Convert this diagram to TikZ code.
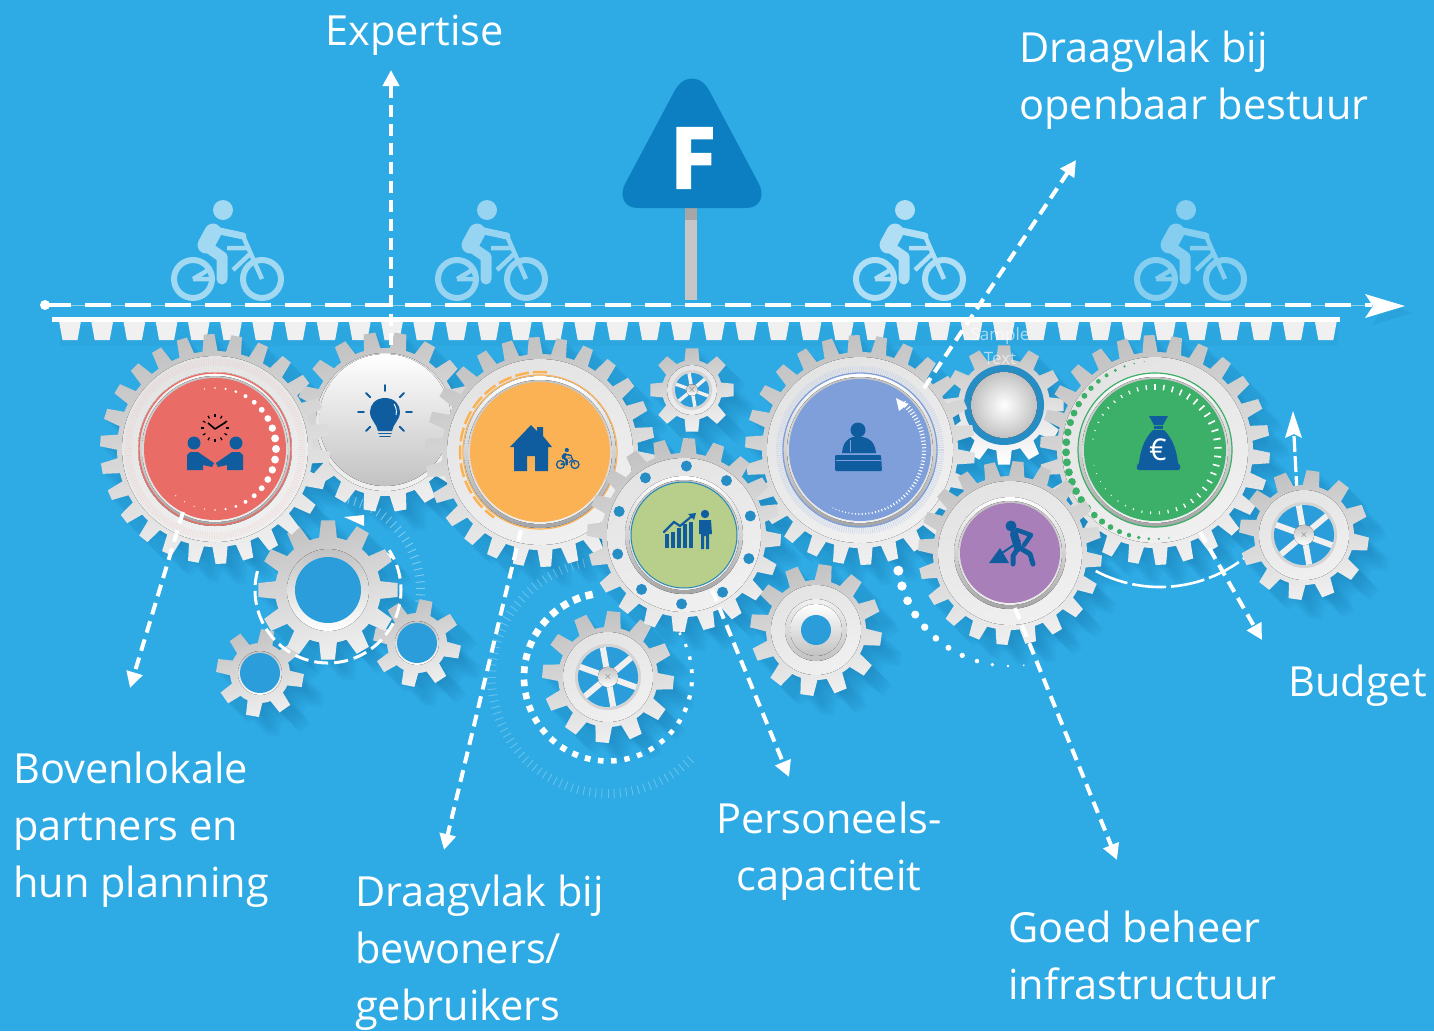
\documentclass[tikz,border=0pt]{standalone}
\usepackage{fontspec}
\setmainfont{Open Sans}
\newfontfamily\signfont[FakeBold=2.5]{Open Sans}
\usetikzlibrary{arrows.meta,calc}
\definecolor{bgblue}{HTML}{2EAAE4}
\definecolor{holeblue}{HTML}{2B9DDB}
\definecolor{shadowblue}{HTML}{14699F}
\definecolor{iconblue}{HTML}{0F5C9F}
\definecolor{signblue}{HTML}{0B7FC1}
\definecolor{redface}{HTML}{E96D66}
\definecolor{orangeface}{HTML}{FBB254}
\definecolor{periface}{HTML}{7F9FDA}
\definecolor{limeface}{HTML}{B7CF8B}
\definecolor{purpleface}{HTML}{A97FB9}
\definecolor{greenface}{HTML}{3CAF68}
\definecolor{geardark}{HTML}{C2C2C2}
\definecolor{gearlight}{HTML}{F0F0F0}
\tikzset{
  gearfill/.style={shading=axis,top color=geardark,bottom color=gearlight,shading angle=15},
  platefill/.style={shading=axis,top color=geardark!45!white,bottom color=gearlight,shading angle=25},
  conn/.style={draw=white,line width=4pt,dash pattern=on 12pt off 7pt,-{Triangle[length=16pt,width=16pt,fill=white]}},
  label/.style={text=white,font=\fontsize{41.5}{57}\selectfont,inner sep=0pt,align=left,anchor=north west},
  iconfill/.style={fill=iconblue,draw=none},
  iconline/.style={draw=iconblue,line cap=round},
}
\newcommand{\gearshape}[7]{%
  \pgfmathsetmacro{\gearstep}{360/#6}%
  \begin{scope}[shift={(#2,#3)}]
    \path[#1] ({#7+.5*\gearstep}:#5)
      \foreach \k in {1,...,#6} {
        -- ({#7+\k*\gearstep-.32*\gearstep}:#5)
        -- ({#7+\k*\gearstep-.19*\gearstep}:#4)
        -- ({#7+\k*\gearstep+.19*\gearstep}:#4)
        -- ({#7+\k*\gearstep+.32*\gearstep}:#5)
        -- ({#7+\k*\gearstep+.5*\gearstep}:#5)
      } -- cycle;
  \end{scope}}
\newcommand{\gearshadow}[6]{%
  \foreach \q in {1,...,8} {%
    \pgfmathsetmacro{\qq}{2.5*\q}%
    \gearshape{fill=shadowblue,opacity=.05}{#1+\qq}{#2+\qq}{#3}{#4}{#5}{#6}%
  }}
\newcommand{\gearbody}[6]{%
  \gearshape{gearfill}{#1}{#2}{#3}{#4}{#5}{#6}%
  \pgfmathsetmacro{\pr}{#4-5}%
  \fill[platefill] (#1,#2) circle[radius=\pr];}
\newcommand{\gearface}[4]{%
  \pgfmathsetmacro{\ra}{#3+6}\pgfmathsetmacro{\rb}{#3+2}%
  \fill[shading=axis,top color=white,bottom color=geardark!85!black] (#1,#2) circle[radius=\ra];%
  \fill[shading=axis,top color=geardark,bottom color=gearlight] (#1,#2) circle[radius=\rb];%
  \fill[#4] (#1,#2) circle[radius=#3];}
\newcommand{\wheelhole}[3]{%
  \fill[geardark!70!white] (#1,#2) circle[radius=#3+3];
  \fill[holeblue] (#1,#2) circle[radius=#3];
  \foreach \w in {20,80,...,320} {\draw[gearlight,line width=#3*.2pt] (#1,#2) -- ++(\w:#3);}
  \fill[shading=axis,top color=geardark,bottom color=white] (#1,#2) circle[radius=#3*.34];
  \node[text=black!60,font=\fontsize{10}{10}\selectfont,inner sep=0pt] at (#1,#2) {$\times$};}
% cx cy hole-radius ring-width
\newcommand{\ringhole}[4]{%
  \fill[shading=axis,top color=geardark,bottom color=white] (#1,#2) circle[radius=#3+#4];
  \fill[holeblue] (#1,#2) circle[radius=#3];}
\newcommand{\hatcharc}[8]{%
  \begin{scope}[shift={(#1,#2)}]
  \foreach \h in {#4,#5,...,#6} {\draw[#8] (\h:#3) -- (\h:#3+#7);}
  \end{scope}}
\newcommand{\bike}[4]{%
  \begin{scope}[shift={(#1,#2)},scale=#3]
    \pgfmathsetmacro{\sc}{#3}%
    \fill[#4] (30,-69) circle[radius=10];
    \draw[#4,line width=\sc*6pt] (0,0) circle[radius=19] (69,0) circle[radius=19];
    \draw[#4,line width=\sc*17pt,line cap=round] (20,-47) -- (13,-34);
    \draw[#4,line width=\sc*7pt,line cap=round] (22,-49) -- (50,-43);
    \draw[#4,line width=\sc*11pt,line cap=round,line join=round] (13,-33) -- (29,-22) -- (29,0);
    \draw[#4,line width=\sc*4.5pt] (50,-43) -- (69,0) (34,-31) -- (56,-31) (58,-26) -- (40,-9) (0,0) -- (17,-10) (0,0) -- (18,0);
  \end{scope}}
\begin{document}
\begin{tikzpicture}[x=1pt,y=-1pt]
\useasboundingbox (0,0) rectangle (1434,1031);
\fill[bgblue] (0,0) rectangle (1434,1031);

% ---- sign ----
\fill[gray!45] (685,205) rectangle (697,300);
\fill[gray!70] (685,208) rectangle (697,220);
\fill[signblue] (638,208) .. controls (624,208) and (619,196) .. (625,184) -- (674,92) .. controls (683,74) and (701,74) .. (710,92) -- (759,184) .. controls (765,196) and (760,208) .. (746,208) -- cycle;
\node[name=signF,text=white,font=\fontsize{84}{84}\signfont\bfseries,inner sep=0pt] at (693,158) {F};

% ---- cyclists ----
\bike{193}{279}{1}{white!55!bgblue}
\bike{457}{279}{1}{white!50!bgblue}
\bike{875}{279}{1}{white!62!bgblue}
\bike{1156}{279}{1}{white!42!bgblue}

% ---- time line ----
\draw[white!45!bgblue,line width=1pt] (45,305) -- (1385,305);
\coordinate (lineStart) at (45,305);
\coordinate (lineEnd) at (1372,305);
\draw[white,line width=4pt,dash pattern=on 26pt off 14pt] (lineStart) -- (lineEnd);
\fill[white] (lineStart) circle[radius=5];
\fill[shadowblue,opacity=.12] (1372,298) -- (1412,313) -- (1372,325) -- (1380,313) -- cycle;
\fill[white] (1365,294) -- (1405,306) -- (1365,318) -- (1373,306) -- cycle;

% ---- shadows ----
\gearshadow{215}{449}{115}{98}{26}{4}
\gearshadow{385}{422}{90}{74}{18}{0}
\gearshadow{540}{452}{115}{98}{26}{4}
\gearshadow{692}{390}{42}{30}{8}{0}
\gearshadow{684}{535}{97}{82}{20}{3}
\gearshadow{860}{450}{115}{98}{26}{4}
\gearshadow{1004}{405}{60}{46}{12}{0}
\gearshadow{1010}{553}{92}{77}{20}{5}
\gearshadow{1155}{450}{115}{98}{26}{4}
\gearshadow{1304}{535}{65}{50}{12}{8}
\gearshadow{328}{590}{70}{53}{12}{0}
\gearshadow{260}{673}{44}{30}{8}{10}
\gearshadow{417}{643}{44}{30}{8}{12}
\gearshadow{608}{677}{66}{50}{12}{5}
\gearshadow{816}{630}{66}{50}{12}{8}

% ---- rack ----
\fill[shadowblue,opacity=.06] (60,326) rectangle (1338,346);
\foreach \t in {0,...,39} {
  \pgfmathsetmacro{\tx}{70+\t*32.2}
  \fill[gearlight] (\tx-11,321) -- (\tx+11,321) -- (\tx+7.5,340) -- (\tx-7.5,340) -- cycle;
}
\fill[white] (52,316.5) rectangle (1340,321.5);

% ---- decorations under the small gears ----
\hatcharc{608}{677}{112}{-315}{-312}{-100}{9}{draw=white,opacity=.28,line width=.9pt}
\begin{scope}[shift={(608,677)}]
\foreach \a in {-103,-112,...,-393} {
  \pgfmathsetmacro{\wd}{2+5.5*pow((\a+393)/290,.5)}
  \draw[white,line width=\wd pt] (\a:84-\wd/2) -- (\a:84+\wd/2);
}
\end{scope}
\gearbody{608}{677}{66}{50}{12}{5}
\wheelhole{608}{677}{30}

\hatcharc{328}{590}{88}{-77}{-73}{8}{9}{draw=white,opacity=.4,line width=.9pt}
\gearshape{gearfill}{260}{673}{44}{30}{8}{10}
\ringhole{260}{673}{20}{2}
\gearshape{gearfill}{417}{643}{44}{30}{8}{12}
\ringhole{417}{643}{20}{2}
\draw[white,line width=3pt,dash pattern=on 14pt off 6pt] (328,590) ++(195:73) arc[start angle=195,end angle=-33,radius=73];
\fill[white] (384,550) -- (393,557) -- (386,562) -- cycle;
\fill[white] (344,517) -- (364,515) -- (364,526) -- cycle;
\gearshape{gearfill}{328}{590}{70}{53}{12}{0}
\ringhole{328}{590}{33}{8}

\gearbody{816}{630}{66}{50}{12}{8}
\fill[shading=axis,top color=gearlight,bottom color=geardark] (816,630) circle[radius=31];
\fill[shading=axis,top color=white,bottom color=geardark] (816,630) circle[radius=26];
\fill[holeblue] (816,630) circle[radius=15];

% ---- bulb gear ----
\gearbody{385}{422}{90}{74}{18}{0}
\fill[shading=axis,top color=white,bottom color=geardark] (385,420) circle[radius=66];

% ---- small top gear ----
\gearbody{692}{390}{42}{30}{8}{0}
\wheelhole{692}{390}{17}

% ---- sample gear ----
\gearshape{shading=axis,top color=geardark,bottom color=white}{1004}{405}{60}{46}{12}{0}
\fill[holeblue!90!black] (1004,405) circle[radius=40];
\fill[shading=radial,inner color=white,outer color=geardark] (1004,405) circle[radius=33];

% ---- red gear ----
\gearbody{215}{449}{115}{98}{26}{4}
\draw[redface!50!white,opacity=.3,line width=7pt,dash pattern=on .8pt off 1.6pt] (215,449) circle[radius=87];
\gearface{215}{449}{71}{redface}
\draw[redface,line width=1.4pt] (215,449) circle[radius=76];
\begin{scope}[shift={(215,449)}]
\foreach \a in {-100,-90,...,130} {
  \pgfmathsetmacro{\dr}{.6+3.4*pow(cos(\a*.7),3)}
  \fill[white] (\a:61) circle[radius=\dr];
}
\end{scope}
% handshake + clock icon
\fill[iconfill] (194,443) circle[radius=6.5] (236,443) circle[radius=6.5];
\fill[iconfill] (187,470) -- (187,455) -- (190,452) -- (198,452) -- (214,463) -- (212,467) -- (203,465) -- (203,470) -- cycle;
\fill[iconfill] (243,470) -- (243,455) -- (240,452) -- (232,452) -- (216,463) -- (218,467) -- (227,465) -- (227,470) -- cycle;
\begin{scope}[shift={(215,428)}]
\foreach \a in {0,30,...,330} {\draw[black,line width=1.2pt] (\a:11) -- (\a:14);}
\draw[black,line width=1.6pt,line join=round] (-7,-5) -- (0,1) -- (11,-6);
\end{scope}

% ---- orange gear ----
\gearbody{540}{452}{115}{98}{26}{4}
\draw[orangeface,line width=2.5pt,dash pattern=on 14pt off 4pt] (540,452) ++(-85:80) arc[start angle=-85,end angle=-235,radius=80];
\draw[orangeface,line width=1.2pt] (540,452) circle[radius=77];
\gearface{540}{452}{70}{orangeface}
% house + cyclist icon
\fill[iconfill] (531,425) -- (537,431) -- (537,427) -- (543,427) -- (543,436) -- (552,447) -- (548,447) -- (548,471) -- (535,471) -- (535,456) -- (527,456) -- (527,471) -- (514,471) -- (514,447) -- (510,447) -- cycle;
\bike{560.5}{464.5}{.21}{iconblue}

% ---- blue gear ----
\gearbody{860}{450}{115}{98}{26}{4}
\draw[periface!60!white,opacity=.5,line width=6pt,dash pattern=on .8pt off 1.4pt] (860,450) circle[radius=81];
\gearface{860}{450}{71}{periface}
\draw[periface,line width=1.3pt] (860,450) circle[radius=77];
\begin{scope}[shift={(860,450)}]
\foreach \a in {115,112,...,-48} {
  \pgfmathsetmacro{\tl}{.8+(115-\a)/165*5}
  \draw[white,line width=1pt] (\a:64-\tl/2) -- (\a:64+\tl/2);
}
\end{scope}
\fill[white] (896,398) -- (908,404) -- (899,411) -- cycle;
% speaker icon
\fill[iconfill] (858,430) circle[radius=7.5];
\fill[iconfill] (842,453) .. controls (843,441) and (849,438) .. (853,437) -- (863,437) .. controls (868,438) and (875,441) .. (876,453) -- cycle;
\fill[iconfill,rounded corners=1pt] (835,455) -- (881,455) -- (882,471) -- (835,471) -- cycle;
\draw[periface,line width=.8pt] (836,460) -- (881,460);
\draw[periface,line width=.8pt] (850,440) -- (850,452);

% ---- lime gear ----
\gearbody{684}{535}{97}{82}{20}{3}
\foreach \a in {0,36,...,324} {
  \fill[holeblue!90!black] ($(684,535)+(\a+20:69)$) circle[radius=5.5];
}
\gearface{684}{535}{53}{limeface}
\draw[bgblue!80!black,line width=1pt] (684,535) circle[radius=53];
% chart + person icon
\foreach \b/\h in {665/14,671/16,677/20,683/24,689/26} {
  \fill[iconfill] (\b,548) rectangle (\b+3.5,548-\h);
}
\draw[iconline,line width=2.2pt] (664,532) -- (674,522) -- (680,526) -- (692,516);
\fill[iconfill] (696,513) -- (688,514) -- (694,520) -- cycle;
\fill[iconfill] (705,514) circle[radius=4.2];
\fill[iconfill] (699,520) -- (711,520) -- (712,534) -- (709,534) -- (709,549) -- (706,549) -- (706,536) -- (704,536) -- (704,549) -- (701,549) -- (701,534) -- (699,534) -- cycle;

% ---- green gear ----
\gearbody{1155}{450}{115}{98}{26}{4}
\begin{scope}[shift={(1155,450)}]
\foreach \a in {263,256.5,...,76} {
  \pgfmathsetmacro{\dr}{.5+3.5*sin((\a-76)*.96)}
  \fill[greenface] (\a:89) circle[radius=\dr];
}
\end{scope}
\gearface{1155}{450}{71}{greenface}
\draw[greenface,line width=1.2pt] (1155,450) circle[radius=77];
\begin{scope}[shift={(1155,450)}]
\foreach \a in {-170,-162,...,170} {
  \pgfmathsetmacro{\tl}{.8+6.5*pow(cos((\a+20)/2),2)}
  \pgfmathsetmacro{\tw}{.8+.9*pow(cos((\a+20)/2),2)}
  \draw[white,line width=\tw pt] (\a:63-\tl/2) -- (\a:63+\tl/2);
}
\end{scope}
% money bag icon
\fill[iconfill] (1149,416) -- (1168,416) -- (1163,425) -- (1154,425) -- cycle;
\fill[iconfill] (1154,426) rectangle (1163,429);
\fill[iconfill] (1153,430) -- (1164,430) .. controls (1175,441) and (1177,455) .. (1178,463) .. controls (1181,465) and (1181,470) .. (1178,470) -- (1139,470) .. controls (1136,470) and (1136,465) .. (1139,463) .. controls (1140,455) and (1142,441) .. (1153,430) -- cycle;
\node[name=euroSign,text=white,font=\fontsize{30}{30}\selectfont,inner sep=0pt] at (1158,450) {€};

% ---- purple gear ----
\begin{scope}[shift={(1010,553)}]
\foreach \a in {171,163,...,80} {
  \pgfmathsetmacro{\dr}{.6+4.4*pow((\a-80)/91,.8)}
  \fill[white] (\a:113) circle[radius=\dr];
}
\end{scope}
\gearbody{1010}{553}{92}{77}{20}{5}
\gearface{1010}{553}{50}{purpleface}
% worker icon
\fill[iconfill] (1011,526) circle[radius=5.5];
\fill[iconfill] (989,563) -- (1000,548) -- (1009,563) -- cycle;
\draw[iconline,line width=2pt] (996,557) -- (1020,541);
\draw[iconline,line width=8pt,line join=round] (1014,534) -- (1018,548);
\draw[iconline,line width=4.5pt,line join=round] (1017,530) -- (1031,535) -- (1024,545);
\draw[iconline,line width=5pt,line join=round] (1018,548) -- (1013,556) -- (1013,564);
\draw[iconline,line width=5pt,line join=round] (1020,548) -- (1030,554) -- (1033,564);

% ---- right arcs and gear ----
\draw[white,line width=2.6pt,dash pattern=on 34pt off 5pt] (1160,450) ++(118:137) arc[start angle=118,end angle=40,radius=137];
\draw[white,line width=3.2pt,dash pattern=on 16pt off 4pt] (1297,492) -- (1294,436);
\fill[white] (1293,411) -- (1302,438) -- (1294,434) -- (1285,438) -- cycle;
\gearbody{1304}{535}{65}{50}{12}{8}
\wheelhole{1304}{535}{30}

% ---- bulb icon ----
\fill[iconfill] (385,398) .. controls (375,398) and (370,405) .. (370,412) .. controls (370,420) and (377,424) .. (378,431) -- (392,431) .. controls (393,424) and (400,420) .. (400,412) .. controls (400,405) and (395,398) .. (385,398) -- cycle;
\draw[iconline,line width=1.8pt] (379,433.5) -- (391,433.5) (380,436.5) -- (390,436.5);
\begin{scope}[shift={(385,412)}]
\foreach \a in {180,225,270,315,0,45,135} {\draw[iconline,line width=1.8pt] (\a:21) -- (\a:27);}
\end{scope}
\draw[white,line width=.9pt] (394,404) .. controls (396,407) and (397,411) .. (396,415);

% ---- connectors ----
\coordinate (exFrom) at (391,345);   \coordinate (exTo) at (391,70);
\coordinate (buFrom) at (183,512);   \coordinate (buTo) at (130,688);
\coordinate (beFrom) at (521,530);   \coordinate (beTo) at (444,850);
\coordinate (peFrom) at (712,590);   \coordinate (peTo) at (789,777);
\coordinate (inFrom) at (1015,608);  \coordinate (inTo) at (1117,860);
\coordinate (bgFrom) at (1200,532);  \coordinate (bgTo) at (1262,640);
\coordinate (stFrom) at (924,388);   \coordinate (stTo) at (1076,160);
\draw[conn] (exFrom) -- (exTo);
\draw[conn] (buFrom) -- (buTo);
\draw[conn] (beFrom) -- (beTo);
\draw[conn] (peFrom) -- (peTo);
\draw[conn] (inFrom) -- (inTo);
\draw[conn] (bgFrom) -- (bgTo);
\draw[conn] (stFrom) -- (stTo);

% ---- labels ----
\node[name=sampleText,text=white,opacity=.6,font=\fontsize{17}{24}\selectfont,align=center,inner sep=0pt] at (1000,346) {Sample\\Text};
\node[label,name=lbExpertise] at (325,15) {Expertise};
\node[label,name=lbBestuur] at (1019,31) {Draagvlak bij\\openbaar bestuur};
\node[label,name=lbPartners] at (13,752) {Bovenlokale\\partners en\\hun planning};
\node[label,name=lbBewoners] at (355,875) {Draagvlak bij\\bewoners/\\gebruikers};
\node[label,name=lbPersoneel,align=center,anchor=north] at (829,802) {Personeels-\\capaciteit};
\node[label,name=lbBeheer] at (1008,911) {Goed beheer\\infrastructuur};
\node[label,name=lbBudget] at (1288,665) {Budget};
\end{tikzpicture}
\end{document}
